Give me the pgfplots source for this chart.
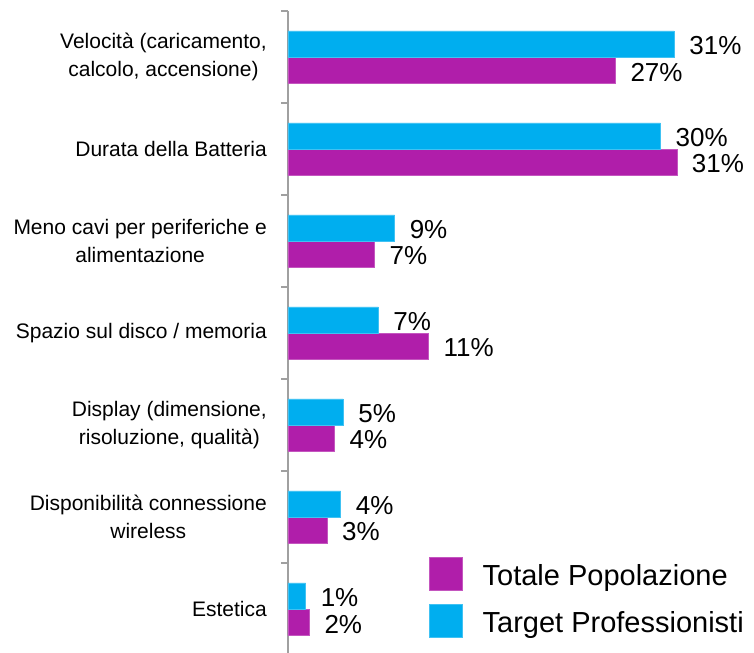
\documentclass[border=0pt]{standalone}
\usepackage{pgfplots}
\pgfplotsset{compat=1.18}
\usepackage{fontspec}
\setmainfont{Liberation Sans}
\definecolor{tgtblue}{HTML}{00AEEF}
\definecolor{totpurple}{HTML}{B01EAA}
\definecolor{axgray}{HTML}{A0A0A0}
\begin{document}
\begin{tikzpicture}
\useasboundingbox (-288bp,0bp) rectangle (466bp,653bp);
\begin{axis}[
  at={(0,0)}, anchor=south west,
  scale only axis, width=464bp, height=642bp,
  xmin=0, xmax=37, ymin=-0.478, ymax=6.5,
  axis x line=none, axis y line*=left,
  y axis line style={draw=axgray, line width=1.2bp},
  clip=false,
  ytick={0,...,6},
  yticklabels={
    Estetica,
    {Disponibilità connessione\\wireless},
    {Display (dimensione,\\risoluzione, qualità)},
    Spazio sul disco / memoria,
    {Meno cavi per periferiche e\\alimentazione},
    Durata della Batteria,
    {Velocità (caricamento,\\calcolo, accensione)}},
  major tick length=0pt,
  yticklabel style={font=\fontsize{21bp}{28bp}\selectfont, align=center, inner sep=0pt, xshift=-21bp},
  extra y ticks={0.5,1.5,...,6.5},
  extra y tick labels={},
  extra y tick style={major tick length=7bp, tick align=outside,
    tick style={draw=axgray, line width=1.2bp}},
  xbar, bar width=0.283,
  nodes near coords,
  point meta=explicit symbolic,
  nodes near coords style={anchor=west, xshift=15bp, yshift=-2bp, inner sep=0pt, text=black,
    font=\fontsize{26bp}{30bp}\selectfont},
  legend style={at={(rel axis cs:0.304,0.1495)}, anchor=north west,
    draw=none, fill=none, inner sep=0pt, column sep=20bp, row sep=4bp,
    font=\fontsize{29bp}{33bp}\selectfont,
    nodes={inner sep=0pt, text height=26bp, text depth=7bp}},
  legend cell align=left,
  legend image code/.code={\fill[#1] (0bp,-7bp) rectangle (33bp,26bp);},
]
% Totale Popolazione
\addplot[fill=totpurple, draw=totpurple!75!white, bar shift=-0.1415] coordinates {
  (1.7,0) [2\%]
  (3.1,1) [3\%]
  (3.7,2) [4\%]
  (11.2,3) [11\%]
  (6.9,4) [7\%]
  (31.0,5) [31\%]
  (26.1,6) [27\%]
};
\addlegendentry{\raisebox{7bp}{Totale Popolazione}}
% Target Professionisti
\addplot[fill=tgtblue, draw=tgtblue!75!white, bar shift=0.1415] coordinates {
  (1.4,0) [1\%]
  (4.2,1) [4\%]
  (4.4,2) [5\%]
  (7.2,3) [7\%]
  (8.5,4) [9\%]
  (29.7,5) [30\%]
  (30.8,6) [31\%]
};
\addlegendentry{\raisebox{7bp}{Target Professionisti}}
\end{axis}
\end{tikzpicture}
\end{document}
